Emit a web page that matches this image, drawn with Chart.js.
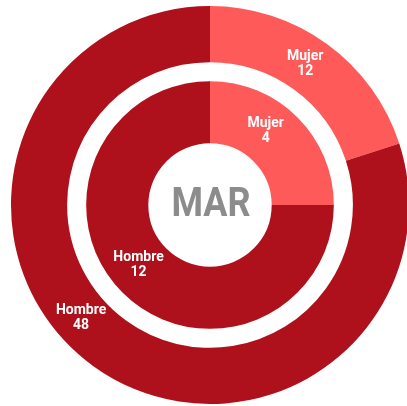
<!DOCTYPE html>
<html lang="es">
<head>
  <meta charset="UTF-8">
  <title>MAR</title>
  <style>
    html, body { margin: 0; padding: 0; background: #fff; overflow: hidden; }
    canvas { display: block; }
  </style>
</head>
<body>
  <canvas id="canvas" width="420" height="406"></canvas>
  <script src="https://cdn.jsdelivr.net/npm/chart.js"></script>
  <script>
    const categories = ['Mujer', 'Hombre'];
    const outerValues = [12, 48];
    const innerValues = [4, 12];
    const centerLabel = 'MAR';

    const colors = ['#FE5A5A', '#AE111C'];

    // draws "Mujer / 12" style labels on each arc plus the month in the middle
    const labelPlugin = {
      id: 'arcLabels',
      afterDatasetsDraw(chart, args, opts) {
        const ctx = chart.ctx;
        ctx.save();
        ctx.fillStyle = '#fff';
        ctx.textAlign = 'center';
        ctx.textBaseline = 'middle';
        ctx.font = 'bold 14px Roboto';
        chart.data.datasets.forEach((ds, di) => {
          if (ds.spacer) return;
          const meta = chart.getDatasetMeta(di);
          const along = opts.along[di] || [];
          meta.data.forEach((arc, i) => {
            const f = along[i] ?? 0.5;
            const a = arc.startAngle + f * (arc.endAngle - arc.startAngle);
            const r = (arc.innerRadius + arc.outerRadius) / 2;
            const x = arc.x + Math.cos(a) * r;
            const y = arc.y + Math.sin(a) * r;
            ctx.fillText(categories[i], x, y - 7);
            ctx.fillText(String(ds.data[i]), x, y + 8);
          });
        });
        const arc0 = chart.getDatasetMeta(0).data[0];
        ctx.fillStyle = '#8C8C8C';
        ctx.font = 'bold 40px Roboto';
        ctx.translate(arc0.x + 1, arc0.y + 1);
        ctx.scale(0.9, 1);
        ctx.fillText(centerLabel, 0, 0);
        ctx.restore();
      }
    };

    const data = {
      labels: categories,
      datasets: [
        { data: outerValues, backgroundColor: colors, borderWidth: 0, weight: 56 },
        { data: [1], backgroundColor: 'rgba(0,0,0,0)', borderWidth: 0, weight: 19, spacer: true },
        { data: innerValues, backgroundColor: colors, borderWidth: 0, weight: 62 }
      ]
    };

    const config = {
      type: 'doughnut',
      data: data,
      options: {
        responsive: false,
        animation: false,
        events: [],
        cutout: '31%',
        layout: { padding: { left: 11, right: 11, top: 6, bottom: 2 } },
        plugins: {
          legend: { display: false },
          tooltip: { enabled: false },
          arcLabels: { along: { 0: [0.47, 0.545], 2: [0.41, 0.52] } }
        }
      },
      plugins: [labelPlugin]
    };
    new Chart(document.getElementById('canvas'), config);
  </script>
</body>
</html>
